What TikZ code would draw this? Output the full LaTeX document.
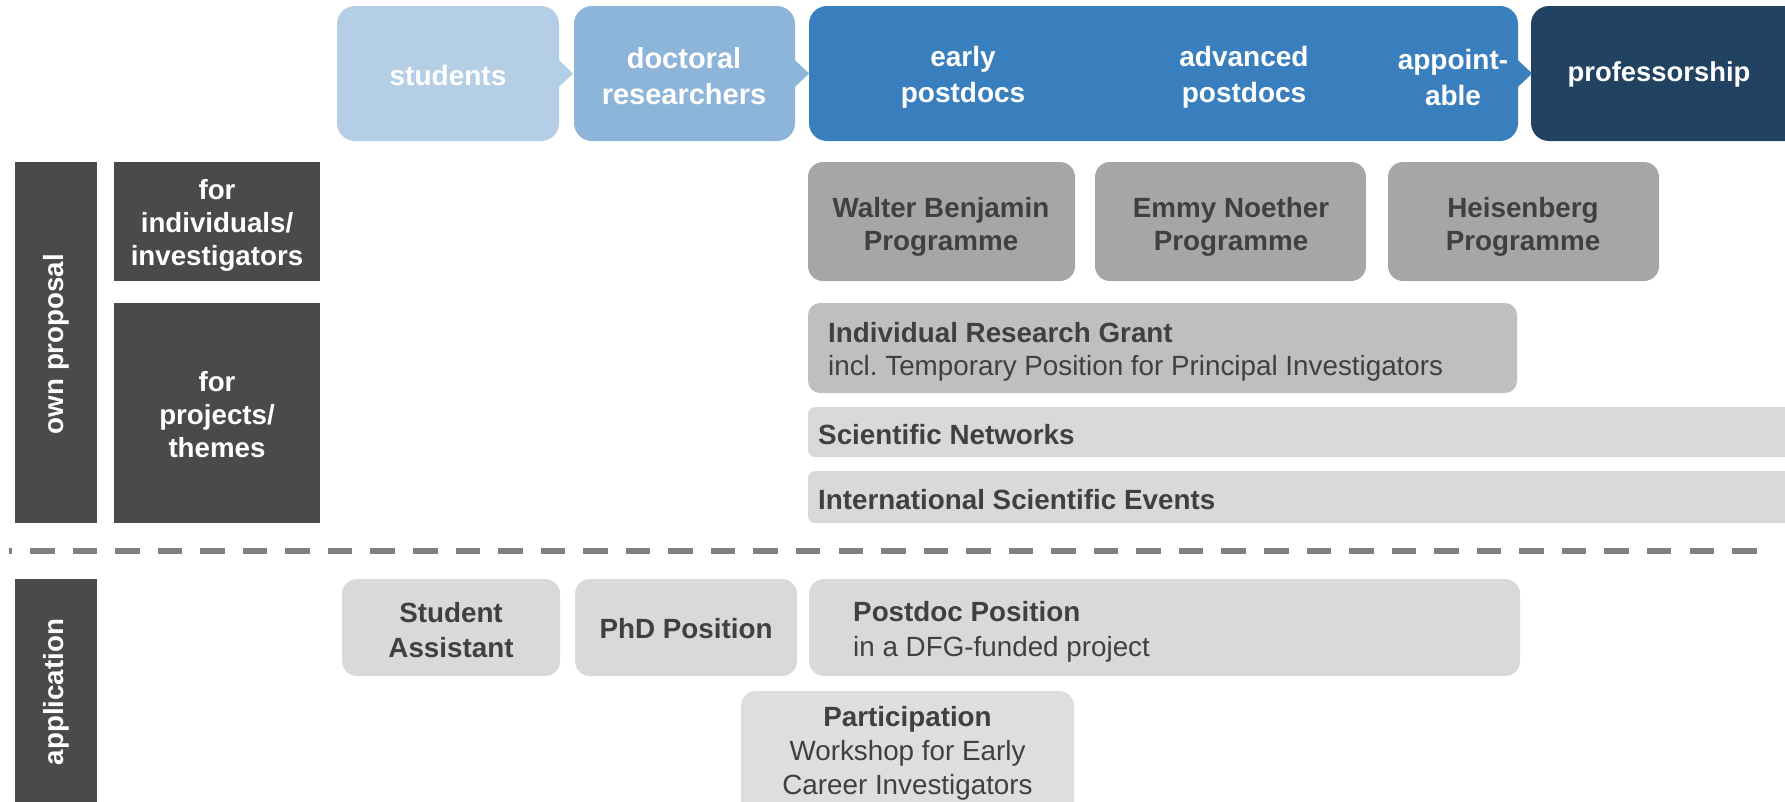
\documentclass[tikz,border=0pt]{standalone}
\usepackage{fontspec}
\setmainfont{Liberation Sans}
\usetikzlibrary{calc}
\definecolor{studC}{HTML}{B4CEE6}
\definecolor{docC}{HTML}{8DB4D9}
\definecolor{blueC}{HTML}{3A7FBD}
\definecolor{profC}{HTML}{214261}
\definecolor{darkC}{HTML}{4A4A4C}
\definecolor{progC}{HTML}{A6A6A6}
\definecolor{grantC}{HTML}{BFBFBF}
\definecolor{lightC}{HTML}{D9D9D9}
\definecolor{partC}{HTML}{DEDEDE}
\definecolor{txtC}{HTML}{404040}
\definecolor{dashC}{HTML}{7F7F7F}
\frenchspacing
\begin{document}
\begin{tikzpicture}[x=1pt,y=-1pt,
  topbox/.style={fill=#1, rounded corners=18pt, minimum height=135pt, inner sep=0pt},
  toptext/.style={text=white, font=\fontsize{28pt}{36pt}\selectfont\bfseries, align=center, inner sep=0pt},
  leftbox/.style={fill=darkC, inner sep=0pt},
  lefttext/.style={text=white, font=\fontsize{27.7pt}{33pt}\selectfont\bfseries, align=center, inner sep=0pt},
  progbox/.style={fill=progC, rounded corners=15pt, minimum height=119pt, inner sep=0pt},
  appbox/.style={fill=lightC, rounded corners=15pt, minimum height=97pt, inner sep=0pt},
  greytext/.style={text=txtC, font=\fontsize{27.8pt}{33pt}\selectfont\bfseries, align=center, inner sep=0pt},
  plaintext/.style={text=txtC, font=\fontsize{27.8pt}{33pt}\selectfont, align=left, inner sep=0pt, anchor=west},
  barbox/.style={fill=lightC, rounded corners=7pt, minimum width=992pt, inner sep=0pt},
  dashline/.style={draw=dashC, line width=6pt, dash pattern=on 24.5pt off 18.05pt, dash phase=21.5pt}
]
\useasboundingbox (0,0) rectangle (1785,801);

% top career stages
\node[topbox=studC, minimum width=222pt] (stud) at (448,73.5) {};
\node[topbox=docC, minimum width=221pt] (doc) at (684.5,73.5) {};
\node[topbox=blueC, minimum width=709pt] (blue) at (1163.5,73.5) {};
\node[topbox=profC, minimum width=279pt] (prof) at (1670.5,73.5) {};
\fill[studC] ($(stud.east)+(-1,-14)$) -- ($(stud.east)+(14,0)$) -- ($(stud.east)+(-1,14)$) -- cycle;
\fill[docC] ($(doc.east)+(-1,-14)$) -- ($(doc.east)+(14,0)$) -- ($(doc.east)+(-1,14)$) -- cycle;
\fill[blueC] ($(blue.east)+(-1,-14)$) -- ($(blue.east)+(14,0)$) -- ($(blue.east)+(-1,14)$) -- cycle;
\node[toptext] (studT) at (448,75) {students};
\node[toptext, font=\fontsize{29pt}{36pt}\selectfont\bfseries] (docT) at (684,76) {doctoral\\researchers};
\node[toptext] (earlyT) at (963,77) {early\\postdocs};
\node[toptext] (advT) at (1244,77) {advanced\\postdocs};
\node[toptext] (appT) at (1453,77) {appoint-\\able};
\node[toptext, font=\fontsize{27.4pt}{36pt}\selectfont\bfseries] (profT) at (1659,74) {professorship};

% left labels
\node[leftbox, minimum width=82pt, minimum height=361pt] (own) at (56,342.5) {};
\node[lefttext, rotate=90] (ownT) at (56,344) {own proposal};
\node[leftbox, minimum width=206pt, minimum height=119pt] (indiv) at (217,221.5) {};
\node[lefttext] (indivT) at (217,225) {for\\individuals/\\investigators};
\node[leftbox, minimum width=206pt, minimum height=220pt] (proj) at (217,413) {};
\node[lefttext] (projT) at (217,414.5) {for\\projects/\\themes};
\node[leftbox, minimum width=82pt, minimum height=226pt] (appl) at (56,692) {};
\node[lefttext, rotate=90] (applT) at (56,692) {application};

% programmes
\node[progbox, minimum width=267pt] (wb) at (941.5,221.5) {};
\node[progbox, minimum width=271pt] (en) at (1230.5,221.5) {};
\node[progbox, minimum width=271pt] (hb) at (1523.5,221.5) {};
\node[greytext] (wbT) at (941,227) {Walter Benjamin\\Programme};
\node[greytext] (enT) at (1231,227) {Emmy Noether\\Programme};
\node[greytext] (hbT) at (1523,227) {Heisenberg\\Programme};

\node[fill=grantC, rounded corners=12pt, minimum width=709pt, minimum height=90pt, inner sep=0pt] (grant) at (1162.5,348) {};
\node[plaintext] (grantT) at (828,351.5) {\textbf{Individual Research Grant}\\incl. Temporary Position for Principal Investigators};
\node[barbox, minimum height=50pt] (sn) at (1304,432) {};
\node[plaintext, font=\fontsize{27.8pt}{33pt}\selectfont\bfseries] (snT) at (818,434.5) {Scientific Networks};
\node[barbox, minimum height=52pt] (ise) at (1304,497) {};
\node[plaintext, font=\fontsize{27.8pt}{33pt}\selectfont\bfseries] (iseT) at (818,499.5) {International Scientific Events};

% dashed divider
\coordinate (dl) at (9,551);
\coordinate (dr) at (1758,551);
\draw[dashline] (dl) -- (dr);

% application
\node[appbox, minimum width=218pt] (sa) at (451,627.5) {};
\node[greytext, font=\fontsize{27.8pt}{35pt}\selectfont\bfseries] (saT) at (451,630) {Student\\Assistant};
\node[appbox, minimum width=222pt] (phd) at (686,627.5) {};
\node[greytext] (phdT) at (686,629) {PhD Position};
\node[appbox, minimum width=711pt] (pd) at (1164.5,627.5) {};
\node[plaintext, font=\fontsize{27.8pt}{35pt}\selectfont] (pdT) at (853,632) {\textbf{Postdoc Position}\\in a DFG-funded project};
\node[fill=partC, rounded corners=15pt, minimum width=333pt, minimum height=138pt, inner sep=0pt] (part) at (907.5,760) {};
\node[text=txtC, font=\fontsize{27.8pt}{34pt}\selectfont, align=center, inner sep=0pt] (partT) at (907.5,753) {\textbf{Participation}\\Workshop for Early\\Career Investigators};
\end{tikzpicture}
\end{document}
